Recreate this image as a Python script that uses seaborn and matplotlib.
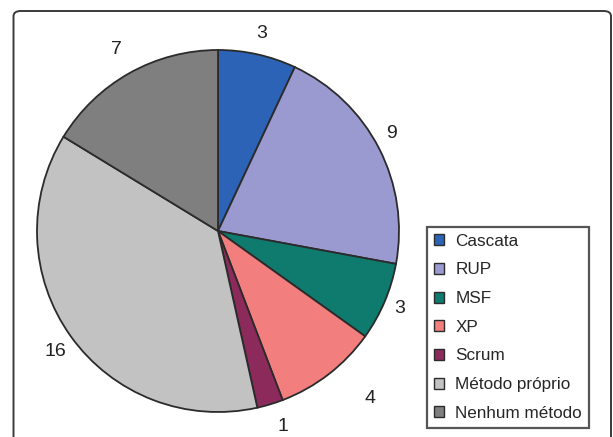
#!/usr/bin/env python3
"""Pie chart: development methods used (counts)."""

import numpy as np
import matplotlib
matplotlib.use("Agg")
import matplotlib.pyplot as plt
import seaborn as sns
from matplotlib.patches import FancyBboxPatch

methods = ["Cascata", "RUP", "MSF", "XP", "Scrum", "Método próprio", "Nenhum método"]
counts = [3, 9, 3, 4, 1, 16, 7]
colors = ["#2c63b6", "#9a9ad0", "#0f7a6e", "#f27e7e", "#8c2a5c", "#c2c2c2", "#7f7f7f"]
# radial distance (in pie radii) and angular nudge (deg) of each count label
label_dist = [1.12, 1.10, 1.09, 1.25, 1.14, 1.12, 1.15]
label_nudge = [0, 2, 0, 4.6, 1.5, 1.0, 0]

sns.set_style("white")
plt.rcParams["font.family"] = ["Liberation Sans", "DejaVu Sans"]

W, H = 613, 437
fig = plt.figure(figsize=(W / 100, H / 100), dpi=100)

# outer rounded frame
frame = FancyBboxPatch((13.5 / W, -0.1), (611 - 13.5) / W, 1 - 11 / H + 0.1,
                       boxstyle="round,pad=0,rounding_size=0.012",
                       transform=fig.transFigure, facecolor="none",
                       edgecolor="#3a3a3a", linewidth=1.4, zorder=-1)
fig.patches.append(frame)

# pie centred at (218, 231) px with radius ~181 px
cx, cy, r_px = 218, 231, 181
half = 200
ax = fig.add_axes([(cx - half) / W, 1 - (cy + half) / H, 2 * half / W, 2 * half / H])
ax.patch.set_alpha(0)
lim = half / r_px

total = sum(counts)
wedges, texts, autotexts = ax.pie(
    counts, colors=colors, startangle=90, counterclock=False,
    autopct=lambda p: f"{round(p * total / 100)}", pctdistance=1.11,
    wedgeprops=dict(edgecolor="#2b2b2b", linewidth=1.3),
    textprops=dict(fontsize=14, color="#222222"), frame=False)
ax.set_xlim(-lim, lim)
ax.set_ylim(-lim, lim)
ax.set_aspect("equal")
ax.axis("off")

for w, t, d, nudge in zip(wedges, autotexts, label_dist, label_nudge):
    mid = np.deg2rad((w.theta1 + w.theta2) / 2 + nudge)
    t.set_position((d * np.cos(mid), d * np.sin(mid)))
    t.set_clip_on(False)

leg = fig.legend(wedges, methods, loc="upper left",
                 bbox_to_anchor=(427 / W, 1 - 227 / H), bbox_transform=fig.transFigure,
                 borderaxespad=0, frameon=True, fancybox=False, fontsize=12.3,
                 labelspacing=0.8, handlelength=0.6, handleheight=0.6,
                 handletextpad=0.65, borderpad=0.4)
leg.get_frame().set_edgecolor("#2b2b2b")
leg.get_frame().set_linewidth(1.6)
for h in leg.legend_handles:
    h.set_linewidth(1.0)

fig.savefig("out.png", dpi=100)
